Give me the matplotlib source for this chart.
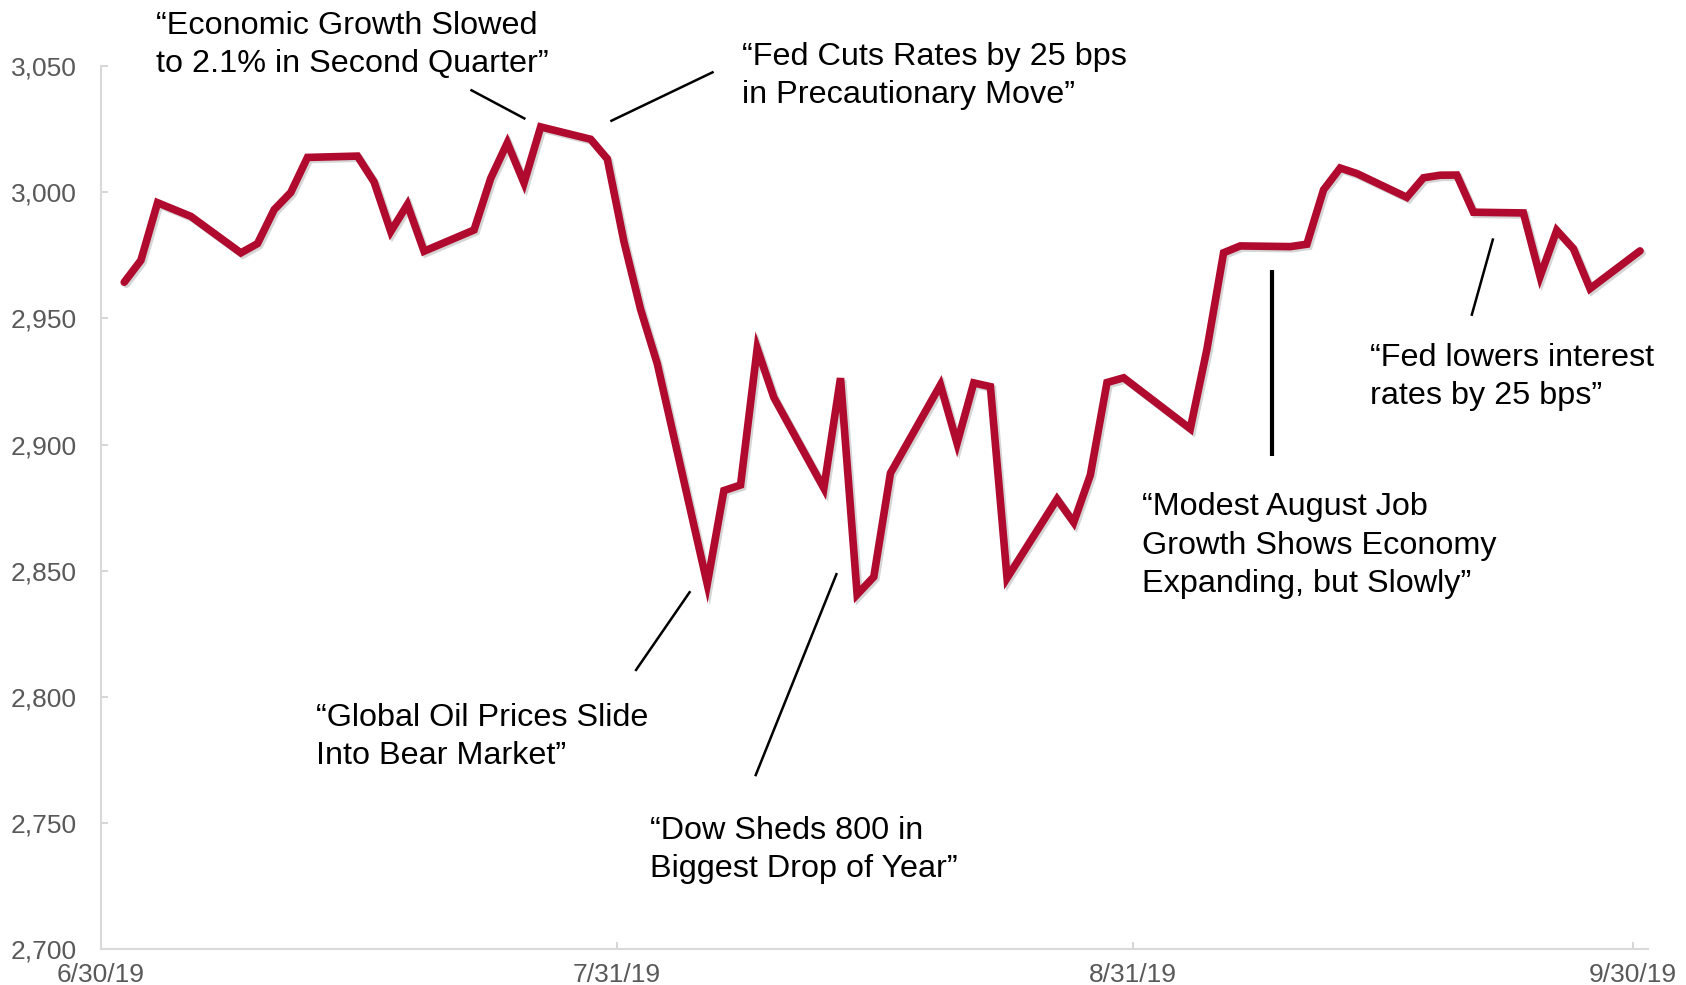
import matplotlib
matplotlib.use("Agg")
import matplotlib.pyplot as plt
import matplotlib.patheffects as pe
import pandas as pd

plt.rcParams['font.family'] = ['Liberation Sans', 'DejaVu Sans']

# S&P 500 daily closes, Q3 2019
dates = pd.to_datetime([
    '2019-07-01', '2019-07-02', '2019-07-03', '2019-07-05', '2019-07-08', '2019-07-09',
    '2019-07-10', '2019-07-11', '2019-07-12', '2019-07-15', '2019-07-16', '2019-07-17',
    '2019-07-18', '2019-07-19', '2019-07-22', '2019-07-23', '2019-07-24', '2019-07-25',
    '2019-07-26', '2019-07-29', '2019-07-30', '2019-07-31', '2019-08-01', '2019-08-02',
    '2019-08-05', '2019-08-06', '2019-08-07', '2019-08-08', '2019-08-09', '2019-08-12',
    '2019-08-13', '2019-08-14', '2019-08-15', '2019-08-16', '2019-08-19', '2019-08-20',
    '2019-08-21', '2019-08-22', '2019-08-23', '2019-08-26', '2019-08-27', '2019-08-28',
    '2019-08-29', '2019-08-30', '2019-09-03', '2019-09-04', '2019-09-05', '2019-09-06',
    '2019-09-09', '2019-09-10', '2019-09-11', '2019-09-12', '2019-09-13', '2019-09-16',
    '2019-09-17', '2019-09-18', '2019-09-19', '2019-09-20', '2019-09-23', '2019-09-24',
    '2019-09-25', '2019-09-26', '2019-09-27', '2019-09-30',
])
closes = [
    2964.33, 2973.01, 2995.82, 2990.41, 2975.95, 2979.63,
    2993.07, 2999.91, 3013.77, 3014.30, 3004.04, 2984.42,
    2995.11, 2976.61, 2985.03, 3005.47, 3019.56, 3003.67,
    3025.86, 3020.97, 3013.18, 2980.38, 2953.56, 2932.05,
    2844.74, 2881.77, 2883.98, 2938.09, 2918.65, 2882.70,
    2926.32, 2840.60, 2847.60, 2888.68, 2923.65, 2900.51,
    2924.43, 2922.95, 2847.11, 2878.38, 2869.16, 2887.94,
    2924.58, 2926.46, 2906.27, 2937.78, 2976.00, 2978.71,
    2978.43, 2979.39, 3000.93, 3009.57, 3007.39, 2997.96,
    3005.70, 3006.73, 3006.79, 2992.07, 2991.78, 2966.60,
    2984.87, 2977.62, 2961.79, 2976.74,
]

tick_dates = pd.to_datetime(['2019-06-30', '2019-07-31', '2019-08-31', '2019-09-30'])
tick_labels = ['6/30/19', '7/31/19', '8/31/19', '9/30/19']
y_ticks = [2700, 2750, 2800, 2850, 2900, 2950, 3000, 3050]

# headlines: (text, text anchor (day offset, value), leader start, leader end, leader width)
start = pd.Timestamp('2019-06-30')
headlines = [
    ('\u201cEconomic Growth Slowed\nto 2.1% in Second Quarter\u201d', (3.3, 3058.4), (22.2, 3040.6), (25.5, 3029.0), 1.8),
    ('\u201cFed Cuts Rates by 25 bps\nin Precautionary Move\u201d', (38.5, 3046.0), (30.6, 3028.1), (36.8, 3047.7), 1.8),
    ('\u201cGlobal Oil Prices Slide\nInto Bear Market\u201d', (12.9, 2784.1), (32.1, 2810.3), (35.4, 2841.9), 1.8),
    ('\u201cDow Sheds 800 in\nBiggest Drop of Year\u201d', (33.0, 2739.3), (39.3, 2768.6), (44.2, 2849.1), 1.8),
    ('\u201cModest August Job\nGrowth Shows Economy\nExpanding, but Slowly\u201d', (62.5, 2860.0), (70.3, 2895.6), (70.3, 2969.3), 3.0),
    ('\u201cFed lowers interest\nrates by 25 bps\u201d', (76.2, 2926.7), (82.3, 2951.0), (83.6, 2981.7), 1.8),
]

fig = plt.figure(figsize=(16.86, 9.85), dpi=100)
ax = fig.add_axes([0.0597, 0.0362, 0.9178, 0.8968])

# points sit a little right of the date ticks
x = dates + pd.Timedelta(hours=10)
ax.plot(x, closes, color='#B00B2E', lw=5.5, solid_joinstyle='miter', solid_capstyle='round',
        path_effects=[pe.SimpleLineShadow(offset=(1.5, -1.5), shadow_color='#888888', alpha=0.35),
                      pe.Normal()], zorder=3)

for text, (tx, ty), (x0, y0), (x1, y1), lw in headlines:
    ax.text(start + pd.Timedelta(days=tx), ty, text, fontsize=23.3, color='black',
            ha='left', va='center', linespacing=1.36, clip_on=False)
    ax.plot([start + pd.Timedelta(days=x0), start + pd.Timedelta(days=x1)], [y0, y1],
            color='black', lw=lw, solid_capstyle='butt', clip_on=False)

ax.set_xlim(start, start + pd.Timedelta(days=92.9))
ax.set_ylim(2700, 3050)
ax.set_xticks(tick_dates)
ax.set_xticklabels(tick_labels)
ax.set_yticks(y_ticks)
ax.set_yticklabels([f'{v:,}' for v in y_ticks])

for side in ['top', 'right']:
    ax.spines[side].set_visible(False)
for side in ['left', 'bottom']:
    ax.spines[side].set_color('#D9D9D9')
    ax.spines[side].set_linewidth(1.5)

ax.tick_params(axis='both', direction='in', length=5, width=1.2, color='#D0D0D0',
               labelsize=19, labelcolor='#595959')
ax.tick_params(axis='y', pad=17)
ax.tick_params(axis='x', pad=10)

fig.savefig('out.png', dpi=100)
